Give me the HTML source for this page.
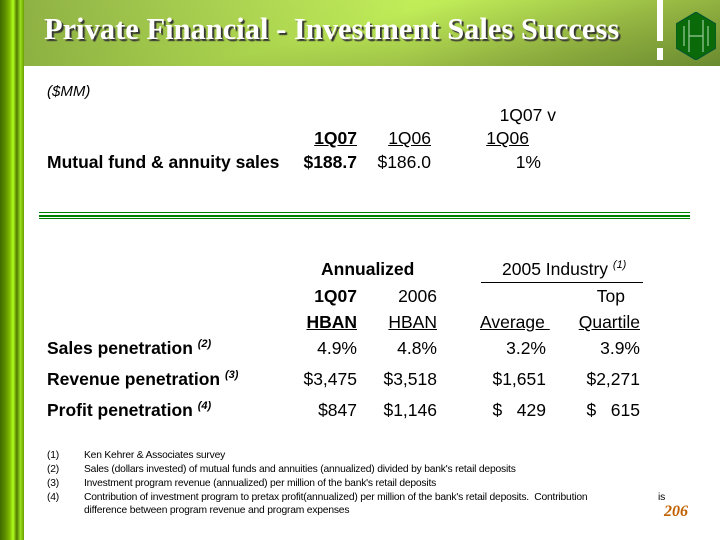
<!DOCTYPE html>
<html><head><meta charset="utf-8"><style>
body{margin:0;width:720px;height:540px;position:relative;background:#fff;overflow:hidden;font-family:"Liberation Sans",Arial,sans-serif;color:#000}
.a{position:absolute;white-space:nowrap;font-size:17.5px;line-height:20px}
.r{text-align:right}
.b{font-weight:bold}
.u{text-decoration:underline}
.f{position:absolute;font-size:10.3px;line-height:12px;white-space:nowrap;letter-spacing:-0.2px}
sup{font-size:11px;font-style:italic;vertical-align:7px;line-height:0}
</style></head><body>
<div style="position:absolute;left:0;top:0;width:24px;height:540px;background:linear-gradient(90deg,#3f6a00 0,#5a8a00 20%,#7fb800 40%,#b0ff20 55%,#8fcc10 60%,#4f7a00 70%,#9ae020 85%,#6aa000 100%)"></div>
<div style="position:absolute;left:24px;top:0;width:696px;height:66px;background:linear-gradient(165deg,#d0f868 0%,#c0ec58 45%,#90b040 75%,#6a8a30 100%)"></div>
<div style="position:absolute;left:24px;top:0;width:696px;height:66px;background:linear-gradient(100deg,rgba(90,120,40,0.55) 0%,rgba(0,0,0,0) 55%)"></div>
<div style="position:absolute;left:657px;top:0;width:6px;height:41px;background:#fff"></div>
<div style="position:absolute;left:657px;top:48px;width:6px;height:12px;background:#fff"></div>
<svg style="position:absolute;left:676px;top:12px" width="40" height="48" viewBox="0 0 40 48">
<polygon points="20,0 40,12 40,36 20,48 0,36 0,12" fill="#0a6a0a" stroke="#053" stroke-width="1"/>
<g stroke="#9c9" stroke-width="1.2" fill="none"><path d="M13,8 V40 M27,8 V40 M13,24 H27 M8,14 V34 M32,14 V34"/></g>
</svg>
<div class="a" style="left:44px;top:12px;font-family:'Liberation Serif',serif;font-weight:bold;font-size:30.5px;line-height:34px;color:#fff;text-shadow:2px 2px 1px #333">Private Financial - Investment Sales Success</div>

<div class="a" style="left:47px;top:82px;font-style:italic;font-size:15px">($MM)</div>
<div class="a r" style="right:164px;top:105px">1Q07 v</div>
<div class="a r b u" style="right:363px;top:128px">1Q07</div>
<div class="a r u" style="right:289px;top:128px">1Q06</div>
<div class="a r u" style="right:191px;top:128px">1Q06</div>
<div class="a b" style="left:47px;top:152px">Mutual fund &amp; annuity sales</div>
<div class="a r b" style="right:363px;top:152px">$188.7</div>
<div class="a r" style="right:289px;top:152px">$186.0</div>
<div class="a r" style="right:179px;top:152px">1%</div>

<div style="position:absolute;left:39px;top:212px;width:651px;height:1px;background:#008000"></div>
<div style="position:absolute;left:39px;top:215px;width:651px;height:2px;background:#008000"></div>
<div style="position:absolute;left:39px;top:218px;width:651px;height:1px;background:#008000"></div>

<div class="a b" style="left:321px;top:259px">Annualized</div>
<div class="a" style="left:502px;top:259px">2005 Industry <sup>(1)</sup></div>
<div style="position:absolute;left:481px;top:282px;width:162px;height:1px;background:#000"></div>
<div class="a r b" style="right:363px;top:286px">1Q07</div>
<div class="a r" style="right:283px;top:286px">2006</div>
<div class="a r" style="right:95px;top:286px">Top</div>
<div class="a r b u" style="right:363px;top:312px">HBAN</div>
<div class="a r u" style="right:283px;top:312px">HBAN</div>
<div class="a u" style="left:480px;top:312px">Average&nbsp;</div>
<div class="a r u" style="right:80px;top:312px">Quartile</div>

<div class="a b" style="left:47px;top:338px">Sales penetration <sup>(2)</sup></div>
<div class="a r" style="right:363px;top:338px">4.9%</div>
<div class="a r" style="right:283px;top:338px">4.8%</div>
<div class="a r" style="right:174px;top:338px">3.2%</div>
<div class="a r" style="right:80px;top:338px">3.9%</div>

<div class="a b" style="left:47px;top:369px">Revenue penetration <sup>(3)</sup></div>
<div class="a r" style="right:363px;top:369px">$3,475</div>
<div class="a r" style="right:283px;top:369px">$3,518</div>
<div class="a r" style="right:174px;top:369px">$1,651</div>
<div class="a r" style="right:80px;top:369px">$2,271</div>

<div class="a b" style="left:47px;top:400px">Profit penetration <sup>(4)</sup></div>
<div class="a r" style="right:363px;top:400px">$847</div>
<div class="a r" style="right:283px;top:400px">$1,146</div>
<div class="a r" style="right:174px;top:400px">$&nbsp;&nbsp;&nbsp;429</div>
<div class="a r" style="right:80px;top:400px">$&nbsp;&nbsp;&nbsp;615</div>

<div class="f" style="left:47px;top:450px">(1)</div><div class="f" style="left:84px;top:450px">Ken Kehrer &amp; Associates survey</div>
<div class="f" style="left:47px;top:464px">(2)</div><div class="f" style="left:84px;top:464px">Sales (dollars invested) of mutual funds and annuities (annualized) divided by bank's retail deposits</div>
<div class="f" style="left:47px;top:478px">(3)</div><div class="f" style="left:84px;top:478px">Investment program revenue (annualized) per million of the bank's retail deposits</div>
<div class="f" style="left:47px;top:492px">(4)</div><div class="f" style="left:84px;top:492px">Contribution of investment program to pretax profit(annualized) per million of the bank's retail deposits.&nbsp; Contribution</div>
<div class="f" style="left:658px;top:492px">is</div>
<div class="f" style="left:84px;top:505px">difference between program revenue and program expenses</div>
<div class="a" style="left:664px;top:502px;font-family:'Liberation Serif',serif;font-style:italic;font-weight:bold;font-size:16px;color:#c06000">206</div>
</body></html>
